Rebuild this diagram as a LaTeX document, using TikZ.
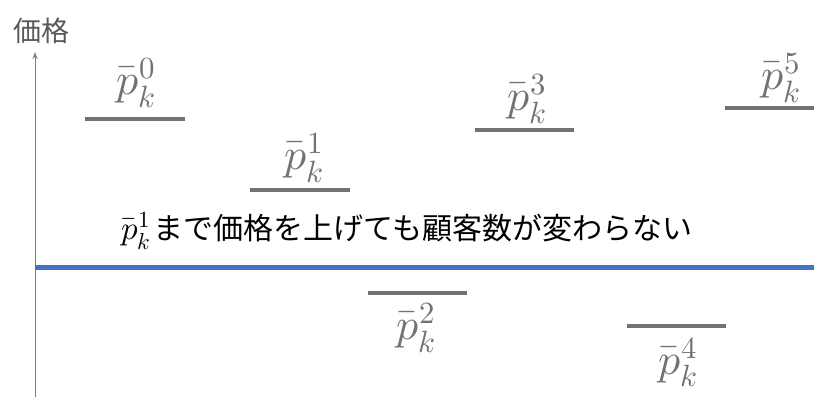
\documentclass[tikz,border=0pt]{standalone}
\usepackage{unicode-math}
\setmathfont{Latin Modern Math}
\newfontfamily\jp{Noto Sans CJK JP}
\usetikzlibrary{arrows.meta}
\definecolor{bargray}{HTML}{767171}
\definecolor{axisgray}{HTML}{7F7F7F}
\definecolor{labelgray}{HTML}{595959}
\definecolor{lineblue}{HTML}{4472C4}
\tikzset{
  bar/.style={draw=bargray, line width=4pt},
  plabel/.style={text=bargray, inner sep=0pt, font=\fontsize{44}{46}\selectfont},
}
\begin{document}
\begin{tikzpicture}[x=1pt,y=-1pt]
\useasboundingbox (0,0) rectangle (814,397);
% axis
\coordinate (ab) at (35,397);
\coordinate (at) at (35,52);
\draw[axisgray, line width=1pt, -{Stealth[length=7pt,width=5pt]}] (ab) -- (at);
\node[inner sep=0pt, font=\jp\fontsize{28}{30}\selectfont, text=labelgray] (ylab) at (41,31) {価格};
% blue line
\coordinate (bl) at (35,267);
\coordinate (br) at (814,267);
\draw[lineblue, line width=5pt] (bl) -- (br);
% bars
\coordinate (b0l) at (85,119);  \coordinate (b0r) at (185,119);
\coordinate (b1l) at (250,190); \coordinate (b1r) at (350,190);
\coordinate (b2l) at (368,293); \coordinate (b2r) at (467,293);
\coordinate (b3l) at (475,130); \coordinate (b3r) at (574,130);
\coordinate (b4l) at (627,326); \coordinate (b4r) at (726,326);
\coordinate (b5l) at (725,108); \coordinate (b5r) at (814,108);
\draw[bar] (b0l) -- (b0r);
\draw[bar] (b1l) -- (b1r);
\draw[bar] (b2l) -- (b2r);
\draw[bar] (b3l) -- (b3r);
\draw[bar] (b4l) -- (b4r);
\draw[bar] (b5l) -- (b5r);
% labels
\node[plabel] (l0) at (136,83) {$\bar{p}_k^0$};
\node[plabel] (l1) at (304,158) {$\bar{p}_k^1$};
\node[plabel] (l2) at (416,328) {$\bar{p}_k^2$};
\node[plabel] (l3) at (527,99) {$\bar{p}_k^3$};
\node[plabel] (l4) at (678,362) {$\bar{p}_k^4$};
\node[plabel] (l5) at (781,78) {$\bar{p}_k^5$};
% statement
\node[anchor=west, inner sep=0pt, font=\jp\fontsize{30}{32}\selectfont] (msg) at (121,231) {{\fontsize{33}{35}\selectfont$\bar{p}_k^1$}\hspace{3pt}まで価格を上げても顧客数が変わらない};
\end{tikzpicture}
\end{document}
